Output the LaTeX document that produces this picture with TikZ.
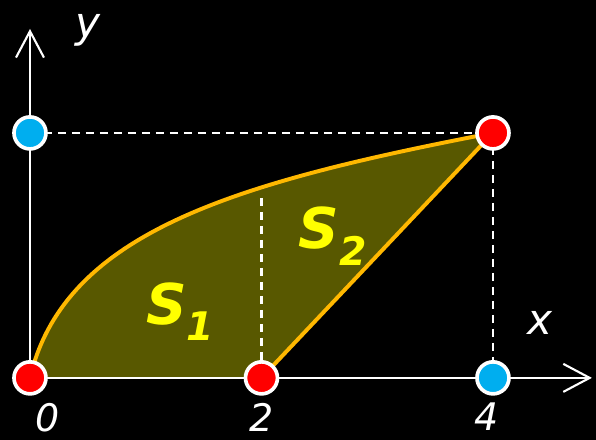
\documentclass[tikz,border=0pt]{standalone}
\usepackage{fontspec}
\setmainfont{DejaVu Sans}
\usetikzlibrary{arrows.meta,positioning}
\definecolor{areafill}{RGB}{88,88,0}
\definecolor{curveline}{RGB}{255,184,0}
\definecolor{dotred}{RGB}{255,0,0}
\definecolor{dotblue}{RGB}{0,174,239}
\definecolor{labyellow}{RGB}{255,255,0}
\tikzstyle{axis} = [white,line width=1.5pt,-{Straight Barb[length=0.66cm,width=0.7cm]}]
\tikzset{
guide/.style= {white,line width=1.5pt,dash pattern=on 0.2cm off 0.15cm},
edge/.style= {curveline,line width=2.8pt,line join=round},
reddot/.style= {circle,draw=white,line width=2.6pt,fill=dotred,minimum size=0.8cm,inner sep=0pt},
bluedot/.style= {circle,draw=white,line width=2.6pt,fill=dotblue,minimum size=0.8cm,inner sep=0pt},
axlabel/.style= {white,font=\fontsize{30}{30}\selectfont\itshape},
ticklabel/.style= {white,inner sep=0pt,font=\fontsize{27}{27}\selectfont\itshape},
arealabel/.style= {labyellow,font=\fontsize{40}{40}\selectfont\bfseries\itshape}
}

\begin{document}
\begin{tikzpicture}[x=2.894cm,y=1.531cm]
\useasboundingbox[fill=black] (-0.259,-1.012) rectangle (4.890,6.171);

% the points of the picture
\coordinate (O) at (0,0);
\coordinate (A) at (2,0);
\coordinate (B) at (4,0);
\coordinate (P) at (4,4);
\coordinate (Q) at (0,4);
\coordinate (M) at (2,2.94);
\coordinate (xtip) at (4.855,0);
\coordinate (ytip) at (0,5.698);

% the area under the curve
\fill[areafill] (O) .. controls (0.3,2.4) and (1.8,3.2) .. (P) -- (A) -- cycle;

% dashed guides
\draw[guide] (Q) -- (P);
\draw[guide] (P) -- (B);
\draw[guide] (M) -- (A);

% axes
\draw[axis] (O) -- (xtip);
\draw[axis] (O) -- (ytip);

% the curve and the straight edge
\draw[edge] (O) .. controls (0.3,2.4) and (1.8,3.2) .. (P) -- (A);

% the dots
\node[reddot] (dotO) at (O) {};
\node[reddot] (dotA) at (A) {};
\node[bluedot] (dotB) at (B) {};
\node[reddot] (dotP) at (P) {};
\node[bluedot] (dotQ) at (Q) {};

% labels
\node[axlabel] (laby) at (0.50,5.68) {y};
\node[axlabel] (labx) at (4.41,0.90) {x};
\node[ticklabel,below=0.18cm of dotO,xshift=0.45cm] (lab0) {0};
\node[ticklabel,below=0.18cm of dotA,xshift=0.0cm] (lab2) {2};
\node[ticklabel,below=0.18cm of dotB,xshift=-0.15cm] (lab4) {4};
\node[arealabel] (s1) at (1.30,1.08) {S\textsubscript{1}};
\node[arealabel] (s2) at (2.62,2.31) {S\textsubscript{2}};

\end{tikzpicture}
\end{document}
